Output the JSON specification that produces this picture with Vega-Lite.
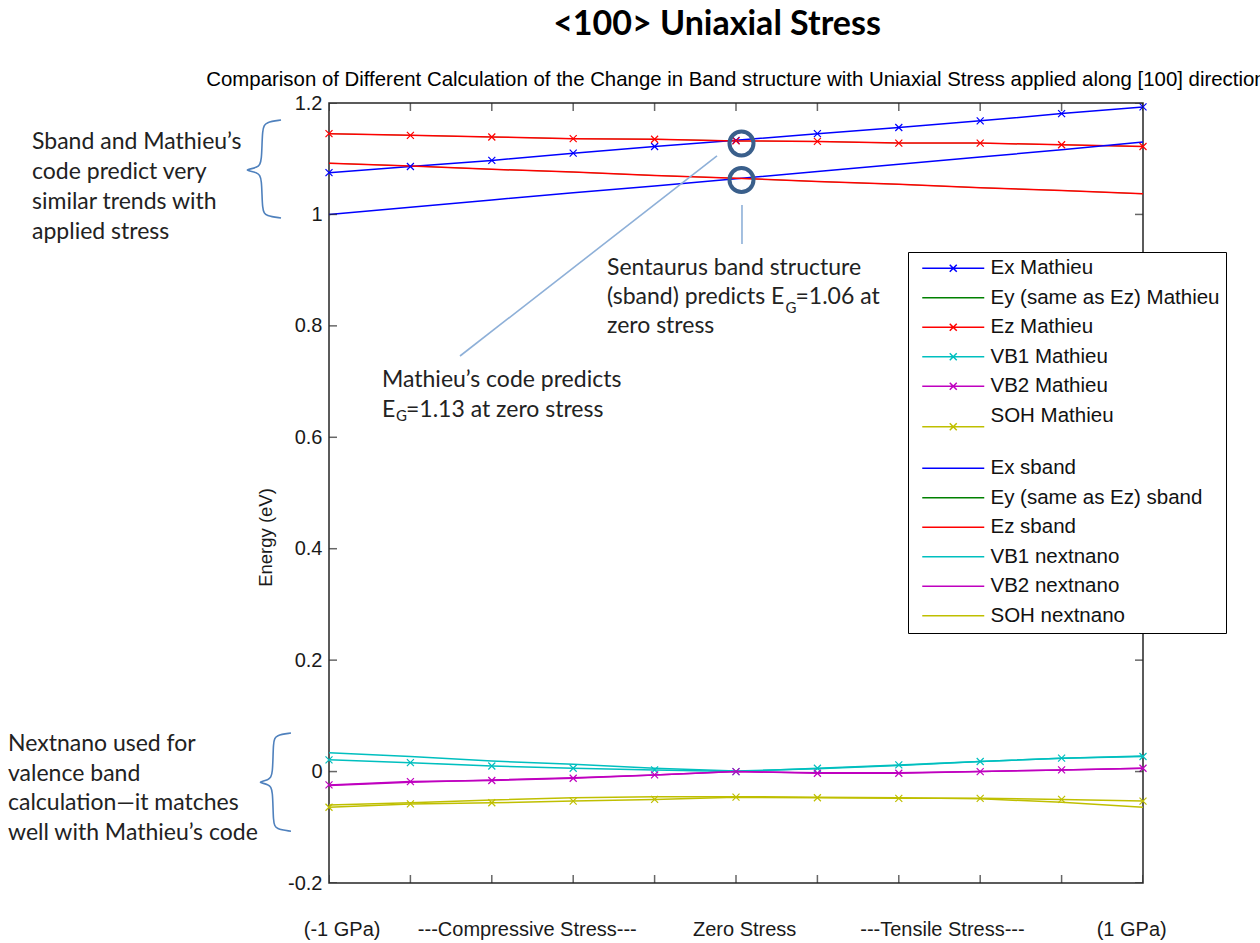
{
  "$schema": "https://vega.github.io/schema/vega-lite/v6.json",
  "width": 814,
  "height": 780,
  "autosize": {"type": "none"},
  "padding": {"left": 329, "top": 103, "right": 117, "bottom": 60},
  "background": "white",
  "title": {
    "text": "<100> Uniaxial Stress",
    "anchor": "middle",
    "frame": "group",
    "dx": -19,
    "font": "Lato",
    "fontSize": 34,
    "fontWeight": "bold",
    "color": "#000000",
    "offset": 28
  },
  "config": {
    "view": {"stroke": "#262626", "strokeWidth": 1.5},
    "axis": {
      "grid": false,
      "domain": false,
      "ticks": false,
      "labelFont": "Liberation Sans",
      "labelFontSize": 20,
      "labelColor": "#1a1a1a",
      "labelLimit": 400,
      "titleFont": "Liberation Sans",
      "titleFontWeight": "normal",
      "titleColor": "#1a1a1a"
    }
  },
  "datasets": {
    "bands": [
      {"series": "Ey (same as Ez) Mathieu", "stress": -1, "energy": 1.145},
      {"series": "Ey (same as Ez) Mathieu", "stress": -0.8, "energy": 1.142},
      {"series": "Ey (same as Ez) Mathieu", "stress": -0.6, "energy": 1.139},
      {"series": "Ey (same as Ez) Mathieu", "stress": -0.4, "energy": 1.136},
      {"series": "Ey (same as Ez) Mathieu", "stress": -0.2, "energy": 1.135},
      {"series": "Ey (same as Ez) Mathieu", "stress": 0, "energy": 1.132},
      {"series": "Ey (same as Ez) Mathieu", "stress": 0.2, "energy": 1.131},
      {"series": "Ey (same as Ez) Mathieu", "stress": 0.4, "energy": 1.128},
      {"series": "Ey (same as Ez) Mathieu", "stress": 0.6, "energy": 1.128},
      {"series": "Ey (same as Ez) Mathieu", "stress": 0.8, "energy": 1.125},
      {"series": "Ey (same as Ez) Mathieu", "stress": 1, "energy": 1.122},
      {"series": "Ey (same as Ez) sband", "stress": -1, "energy": 1.092},
      {"series": "Ey (same as Ez) sband", "stress": -0.8, "energy": 1.087},
      {"series": "Ey (same as Ez) sband", "stress": -0.6, "energy": 1.081},
      {"series": "Ey (same as Ez) sband", "stress": -0.4, "energy": 1.076},
      {"series": "Ey (same as Ez) sband", "stress": -0.2, "energy": 1.07},
      {"series": "Ey (same as Ez) sband", "stress": 0, "energy": 1.065},
      {"series": "Ey (same as Ez) sband", "stress": 0.2, "energy": 1.059},
      {"series": "Ey (same as Ez) sband", "stress": 0.4, "energy": 1.054},
      {"series": "Ey (same as Ez) sband", "stress": 0.6, "energy": 1.048},
      {"series": "Ey (same as Ez) sband", "stress": 0.8, "energy": 1.043},
      {"series": "Ey (same as Ez) sband", "stress": 1, "energy": 1.037},
      {"series": "Ex Mathieu", "stress": -1, "energy": 1.075},
      {"series": "Ex Mathieu", "stress": -0.8, "energy": 1.086},
      {"series": "Ex Mathieu", "stress": -0.6, "energy": 1.097},
      {"series": "Ex Mathieu", "stress": -0.4, "energy": 1.11},
      {"series": "Ex Mathieu", "stress": -0.2, "energy": 1.122},
      {"series": "Ex Mathieu", "stress": 0, "energy": 1.133},
      {"series": "Ex Mathieu", "stress": 0.2, "energy": 1.145},
      {"series": "Ex Mathieu", "stress": 0.4, "energy": 1.156},
      {"series": "Ex Mathieu", "stress": 0.6, "energy": 1.168},
      {"series": "Ex Mathieu", "stress": 0.8, "energy": 1.181},
      {"series": "Ex Mathieu", "stress": 1, "energy": 1.193},
      {"series": "Ez Mathieu", "stress": -1, "energy": 1.145},
      {"series": "Ez Mathieu", "stress": -0.8, "energy": 1.142},
      {"series": "Ez Mathieu", "stress": -0.6, "energy": 1.139},
      {"series": "Ez Mathieu", "stress": -0.4, "energy": 1.136},
      {"series": "Ez Mathieu", "stress": -0.2, "energy": 1.135},
      {"series": "Ez Mathieu", "stress": 0, "energy": 1.132},
      {"series": "Ez Mathieu", "stress": 0.2, "energy": 1.131},
      {"series": "Ez Mathieu", "stress": 0.4, "energy": 1.128},
      {"series": "Ez Mathieu", "stress": 0.6, "energy": 1.128},
      {"series": "Ez Mathieu", "stress": 0.8, "energy": 1.125},
      {"series": "Ez Mathieu", "stress": 1, "energy": 1.122},
      {"series": "VB1 Mathieu", "stress": -1, "energy": 0.021},
      {"series": "VB1 Mathieu", "stress": -0.8, "energy": 0.016},
      {"series": "VB1 Mathieu", "stress": -0.6, "energy": 0.01},
      {"series": "VB1 Mathieu", "stress": -0.4, "energy": 0.006},
      {"series": "VB1 Mathieu", "stress": -0.2, "energy": 0.003},
      {"series": "VB1 Mathieu", "stress": 0, "energy": 0.0},
      {"series": "VB1 Mathieu", "stress": 0.2, "energy": 0.006},
      {"series": "VB1 Mathieu", "stress": 0.4, "energy": 0.012},
      {"series": "VB1 Mathieu", "stress": 0.6, "energy": 0.018},
      {"series": "VB1 Mathieu", "stress": 0.8, "energy": 0.024},
      {"series": "VB1 Mathieu", "stress": 1, "energy": 0.027},
      {"series": "VB2 Mathieu", "stress": -1, "energy": -0.024},
      {"series": "VB2 Mathieu", "stress": -0.8, "energy": -0.018},
      {"series": "VB2 Mathieu", "stress": -0.6, "energy": -0.016},
      {"series": "VB2 Mathieu", "stress": -0.4, "energy": -0.012},
      {"series": "VB2 Mathieu", "stress": -0.2, "energy": -0.006},
      {"series": "VB2 Mathieu", "stress": 0, "energy": 0.0},
      {"series": "VB2 Mathieu", "stress": 0.2, "energy": -0.003},
      {"series": "VB2 Mathieu", "stress": 0.4, "energy": -0.003},
      {"series": "VB2 Mathieu", "stress": 0.6, "energy": 0.0},
      {"series": "VB2 Mathieu", "stress": 0.8, "energy": 0.003},
      {"series": "VB2 Mathieu", "stress": 1, "energy": 0.006},
      {"series": "SOH Mathieu", "stress": -1, "energy": -0.064},
      {"series": "SOH Mathieu", "stress": -0.8, "energy": -0.058},
      {"series": "SOH Mathieu", "stress": -0.6, "energy": -0.056},
      {"series": "SOH Mathieu", "stress": -0.4, "energy": -0.053},
      {"series": "SOH Mathieu", "stress": -0.2, "energy": -0.05},
      {"series": "SOH Mathieu", "stress": 0, "energy": -0.046},
      {"series": "SOH Mathieu", "stress": 0.2, "energy": -0.047},
      {"series": "SOH Mathieu", "stress": 0.4, "energy": -0.048},
      {"series": "SOH Mathieu", "stress": 0.6, "energy": -0.048},
      {"series": "SOH Mathieu", "stress": 0.8, "energy": -0.05},
      {"series": "SOH Mathieu", "stress": 1, "energy": -0.053},
      {"series": "Ex sband", "stress": -1, "energy": 1.0},
      {"series": "Ex sband", "stress": -0.8, "energy": 1.013},
      {"series": "Ex sband", "stress": -0.6, "energy": 1.026},
      {"series": "Ex sband", "stress": -0.4, "energy": 1.039},
      {"series": "Ex sband", "stress": -0.2, "energy": 1.051},
      {"series": "Ex sband", "stress": 0, "energy": 1.064},
      {"series": "Ex sband", "stress": 0.2, "energy": 1.077},
      {"series": "Ex sband", "stress": 0.4, "energy": 1.09},
      {"series": "Ex sband", "stress": 0.6, "energy": 1.103},
      {"series": "Ex sband", "stress": 0.8, "energy": 1.116},
      {"series": "Ex sband", "stress": 1, "energy": 1.13},
      {"series": "Ez sband", "stress": -1, "energy": 1.092},
      {"series": "Ez sband", "stress": -0.8, "energy": 1.087},
      {"series": "Ez sband", "stress": -0.6, "energy": 1.081},
      {"series": "Ez sband", "stress": -0.4, "energy": 1.076},
      {"series": "Ez sband", "stress": -0.2, "energy": 1.07},
      {"series": "Ez sband", "stress": 0, "energy": 1.065},
      {"series": "Ez sband", "stress": 0.2, "energy": 1.059},
      {"series": "Ez sband", "stress": 0.4, "energy": 1.054},
      {"series": "Ez sband", "stress": 0.6, "energy": 1.048},
      {"series": "Ez sband", "stress": 0.8, "energy": 1.043},
      {"series": "Ez sband", "stress": 1, "energy": 1.037},
      {"series": "VB1 nextnano", "stress": -1, "energy": 0.034},
      {"series": "VB1 nextnano", "stress": -0.8, "energy": 0.027},
      {"series": "VB1 nextnano", "stress": -0.6, "energy": 0.019},
      {"series": "VB1 nextnano", "stress": -0.4, "energy": 0.013},
      {"series": "VB1 nextnano", "stress": -0.2, "energy": 0.006},
      {"series": "VB1 nextnano", "stress": 0, "energy": 0.001},
      {"series": "VB1 nextnano", "stress": 0.2, "energy": 0.005},
      {"series": "VB1 nextnano", "stress": 0.4, "energy": 0.011},
      {"series": "VB1 nextnano", "stress": 0.6, "energy": 0.018},
      {"series": "VB1 nextnano", "stress": 0.8, "energy": 0.024},
      {"series": "VB1 nextnano", "stress": 1, "energy": 0.028},
      {"series": "VB2 nextnano", "stress": -1, "energy": -0.025},
      {"series": "VB2 nextnano", "stress": -0.8, "energy": -0.019},
      {"series": "VB2 nextnano", "stress": -0.6, "energy": -0.015},
      {"series": "VB2 nextnano", "stress": -0.4, "energy": -0.011},
      {"series": "VB2 nextnano", "stress": -0.2, "energy": -0.006},
      {"series": "VB2 nextnano", "stress": 0, "energy": 0.0},
      {"series": "VB2 nextnano", "stress": 0.2, "energy": -0.002},
      {"series": "VB2 nextnano", "stress": 0.4, "energy": -0.002},
      {"series": "VB2 nextnano", "stress": 0.6, "energy": 0.0},
      {"series": "VB2 nextnano", "stress": 0.8, "energy": 0.003},
      {"series": "VB2 nextnano", "stress": 1, "energy": 0.006},
      {"series": "SOH nextnano", "stress": -1, "energy": -0.06},
      {"series": "SOH nextnano", "stress": -0.8, "energy": -0.056},
      {"series": "SOH nextnano", "stress": -0.6, "energy": -0.051},
      {"series": "SOH nextnano", "stress": -0.4, "energy": -0.047},
      {"series": "SOH nextnano", "stress": -0.2, "energy": -0.045},
      {"series": "SOH nextnano", "stress": 0, "energy": -0.045},
      {"series": "SOH nextnano", "stress": 0.2, "energy": -0.046},
      {"series": "SOH nextnano", "stress": 0.4, "energy": -0.047},
      {"series": "SOH nextnano", "stress": 0.6, "energy": -0.049},
      {"series": "SOH nextnano", "stress": 0.8, "energy": -0.055},
      {"series": "SOH nextnano", "stress": 1, "energy": -0.064}
    ],
    "xticks": [{"v": -1}, {"v": -0.8}, {"v": -0.6}, {"v": -0.4}, {"v": -0.2}, {"v": 0}, {"v": 0.2}, {"v": 0.4}, {"v": 0.6}, {"v": 0.8}, {"v": 1}],
    "yticks": [{"v": -0.2}, {"v": 0}, {"v": 0.2}, {"v": 0.4}, {"v": 0.6}, {"v": 0.8}, {"v": 1}, {"v": 1.2}],
    "heading": [
      {"x": 0, "y": 1.2, "t": "Comparison of Different Calculation of the Change in Band structure with Uniaxial Stress applied along [100] direction"}
    ],
    "braces": [
      {"id": "top", "i": 0, "x": -1.1179, "y": 1.1694},
      {"id": "top", "i": 1, "x": -1.1548, "y": 1.1659},
      {"id": "top", "i": 2, "x": -1.1646, "y": 1.1551},
      {"id": "top", "i": 3, "x": -1.1646, "y": 1.0941},
      {"id": "top", "i": 4, "x": -1.1744, "y": 1.0833},
      {"id": "top", "i": 5, "x": -1.2138, "y": 1.0797},
      {"id": "top", "i": 6, "x": -1.1744, "y": 1.0761},
      {"id": "top", "i": 7, "x": -1.1646, "y": 1.0654},
      {"id": "top", "i": 8, "x": -1.1646, "y": 1.0061},
      {"id": "top", "i": 9, "x": -1.1548, "y": 0.9972},
      {"id": "top", "i": 10, "x": -1.1179, "y": 0.9936},
      {"id": "bottom", "i": 0, "x": -1.0934, "y": 0.0692},
      {"id": "bottom", "i": 1, "x": -1.1302, "y": 0.0657},
      {"id": "bottom", "i": 2, "x": -1.1376, "y": 0.0549},
      {"id": "bottom", "i": 3, "x": -1.1376, "y": -0.0064},
      {"id": "bottom", "i": 4, "x": -1.1474, "y": -0.0154},
      {"id": "bottom", "i": 5, "x": -1.1794, "y": -0.019},
      {"id": "bottom", "i": 6, "x": -1.1474, "y": -0.0226},
      {"id": "bottom", "i": 7, "x": -1.1376, "y": -0.0316},
      {"id": "bottom", "i": 8, "x": -1.1376, "y": -0.0926},
      {"id": "bottom", "i": 9, "x": -1.1302, "y": -0.1034},
      {"id": "bottom", "i": 10, "x": -1.0934, "y": -0.107}
    ],
    "pointers": [
      {"id": "mathieu", "i": 0, "x": -0.6781, "y": 0.7459},
      {"id": "mathieu", "i": 1, "x": -0.0467, "y": 1.1049},
      {"id": "sband", "i": 0, "x": 0.0147, "y": 1.0169},
      {"id": "sband", "i": 1, "x": 0.0147, "y": 0.9469}
    ],
    "rings": [
      {"x": 0.0135, "y": 1.1273},
      {"x": 0.0135, "y": 1.0618}
    ],
    "notes": [
      {"x": -1.7297, "y": 1.13, "t": "Sband and Mathieu’s"},
      {"x": -1.7297, "y": 1.0761, "t": "code predict very"},
      {"x": -1.7297, "y": 1.0223, "t": "similar trends with"},
      {"x": -1.7297, "y": 0.9684, "t": "applied stress"},
      {"x": -1.7887, "y": 0.0495, "t": "Nextnano used for"},
      {"x": -1.7887, "y": -0.0035, "t": "valence band"},
      {"x": -1.7887, "y": -0.0564, "t": "calculation—it matches"},
      {"x": -1.7887, "y": -0.1094, "t": "well with Mathieu’s code"},
      {"x": -0.8698, "y": 0.7028, "t": "Mathieu’s code predicts"},
      {"x": -0.8698, "y": 0.649, "t": "E"},
      {"x": -0.8108, "y": 0.649, "t": "=1.13 at zero stress"},
      {"x": -0.317, "y": 0.9047, "t": "Sentaurus band structure"},
      {"x": -0.317, "y": 0.8518, "t": "(sband) predicts E"},
      {"x": 0.1462, "y": 0.8518, "t": "=1.06 at"},
      {"x": -0.317, "y": 0.7997, "t": "zero stress"}
    ],
    "subs": [
      {"x": -0.8354, "y": 0.6387, "t": "G"},
      {"x": 0.1216, "y": 0.8315, "t": "G"}
    ]
  },
  "layer": [
    {
      "data": {"name": "bands"},
      "transform": [{"filter": "indexof(datum.series, 'Ey (') == 0"}],
      "mark": {"type": "line", "strokeWidth": 0.6},
      "encoding": {
        "x": {"field": "stress", "type": "quantitative"},
        "y": {"field": "energy", "type": "quantitative"},
        "color": {"field": "series", "type": "nominal"}
      }
    },
    {
      "data": {"name": "bands"},
      "transform": [{"filter": "indexof(datum.series, 'Ey (') != 0"}],
      "mark": {"type": "line", "strokeWidth": 1.5},
      "encoding": {
        "x": {
          "field": "stress",
          "type": "quantitative",
          "scale": {"domain": [-1, 1], "nice": false, "zero": false},
          "axis": {
            "title": null,
            "values": [-0.969, -0.514, 0.02, 0.506, 0.971],
            "labelExpr": "datum.value < -0.7 ? '(-1 GPa)' : datum.value < -0.2 ? '---Compressive Stress---' : datum.value < 0.2 ? 'Zero Stress' : datum.value < 0.7 ? '---Tensile Stress---' : '(1 GPa)'",
            "labelFlush": false,
            "labelOverlap": false,
            "labelBound": false,
            "labelLimit": 400,
            "labelBaseline": "top",
            "labelPadding": 36
          }
        },
        "y": {
          "field": "energy",
          "type": "quantitative",
          "scale": {"domain": [-0.2, 1.2], "nice": false, "zero": false},
          "axis": {
            "title": "Energy (eV)",
            "values": [-0.2, 0, 0.2, 0.4, 0.6, 0.8, 1, 1.2],
            "labelExpr": "'' + datum.value",
            "labelFlush": false,
            "labelOverlap": false,
            "labelPadding": 7,
            "titleFontSize": 18.5,
            "titleAngle": 270,
            "titleX": -64,
            "titleY": 434,
            "titleAlign": "center",
            "titleBaseline": "middle"
          }
        },
        "color": {
          "field": "series",
          "type": "nominal",
          "scale": {
            "domain": ["Ex Mathieu", "Ey (same as Ez) Mathieu", "Ez Mathieu", "VB1 Mathieu", "VB2 Mathieu", "SOH Mathieu", "Ex sband", "Ey (same as Ez) sband", "Ez sband", "VB1 nextnano", "VB2 nextnano", "SOH nextnano"],
            "range": ["#0000ff", "#008000", "#ff0000", "#00bfbf", "#bf00bf", "#bfbf00", "#0000ff", "#008000", "#ff0000", "#00bfbf", "#bf00bf", "#bfbf00"]
          },
          "legend": {
            "title": null,
            "orient": "none",
            "legendX": 579,
            "legendY": 149,
            "direction": "vertical",
            "fillColor": "#ffffff",
            "strokeColor": "#000000",
            "padding": 6,
            "labelFont": "Liberation Sans",
            "labelFontSize": 20.5,
            "labelColor": "#111111",
            "labelLimit": 400,
            "labelOffset": 27,
            "symbolOffset": 29,
            "symbolSize": 100,
            "symbolStrokeWidth": 1.5,
            "symbolType": "M-6.2,0H6.2",
            "rowPadding": 8.5,
            "labelExpr": "datum.label == 'SOH Mathieu' ? ['SOH Mathieu', ''] : datum.label",
            "encode": {
              "symbols": {
                "update": {
                  "shape": {"signal": "datum.value == 'SOH Mathieu' ? 'M-6.2,2.2H6.2M-0.7,1.5L0.7,2.9M0.7,1.5L-0.7,2.9' : indexof(['Ex Mathieu','Ez Mathieu','VB1 Mathieu','VB2 Mathieu'], datum.value) >= 0 ? 'M-6.2,0H6.2M-0.7,-0.7L0.7,0.7M0.7,-0.7L-0.7,0.7' : 'M-6.2,0H6.2'"}
                }
              }
            }
          }
        }
      }
    },
    {
      "data": {"name": "bands"},
      "transform": [{"filter": "indexof(['Ex Mathieu','Ez Mathieu','VB1 Mathieu','VB2 Mathieu','SOH Mathieu'], datum.series) >= 0"}],
      "mark": {"type": "point", "shape": "M-1,-1L1,1M1,-1L-1,1", "size": 49, "strokeWidth": 1.2, "filled": false, "opacity": 1},
      "encoding": {
        "x": {"field": "stress", "type": "quantitative"},
        "y": {"field": "energy", "type": "quantitative"},
        "color": {"field": "series", "type": "nominal"}
      }
    },
    {
      "data": {"name": "xticks"},
      "mark": {"type": "tick", "orient": "vertical", "size": 16, "thickness": 1.5, "color": "#262626", "clip": true},
      "encoding": {
        "x": {"field": "v", "type": "quantitative"},
        "y": {"datum": 1.2, "type": "quantitative"}
      }
    },
    {
      "data": {"name": "xticks"},
      "mark": {"type": "tick", "orient": "vertical", "size": 16, "thickness": 1.5, "color": "#262626", "clip": true},
      "encoding": {
        "x": {"field": "v", "type": "quantitative"},
        "y": {"datum": -0.2, "type": "quantitative"}
      }
    },
    {
      "data": {"name": "yticks"},
      "mark": {"type": "tick", "orient": "horizontal", "size": 16, "thickness": 1.5, "color": "#262626", "clip": true},
      "encoding": {
        "y": {"field": "v", "type": "quantitative"},
        "x": {"datum": -1, "type": "quantitative"}
      }
    },
    {
      "data": {"name": "yticks"},
      "mark": {"type": "tick", "orient": "horizontal", "size": 16, "thickness": 1.5, "color": "#262626", "clip": true},
      "encoding": {
        "y": {"field": "v", "type": "quantitative"},
        "x": {"datum": 1, "type": "quantitative"}
      }
    },
    {
      "data": {"name": "heading"},
      "mark": {"type": "text", "align": "center", "baseline": "middle", "dy": -23, "font": "Liberation Sans", "fontSize": 20.4, "color": "#000000"},
      "encoding": {
        "x": {"field": "x", "type": "quantitative"},
        "y": {"field": "y", "type": "quantitative"},
        "text": {"field": "t"}
      }
    },
    {
      "data": {"name": "braces"},
      "mark": {"type": "line", "interpolate": "basis", "color": "#4f81bd", "strokeWidth": 1.6},
      "encoding": {
        "x": {"field": "x", "type": "quantitative"},
        "y": {"field": "y", "type": "quantitative"},
        "detail": {"field": "id"},
        "order": {"field": "i"}
      }
    },
    {
      "data": {"name": "pointers"},
      "mark": {"type": "line", "color": "#8eb0d8", "strokeWidth": 1.6},
      "encoding": {
        "x": {"field": "x", "type": "quantitative"},
        "y": {"field": "y", "type": "quantitative"},
        "detail": {"field": "id"},
        "order": {"field": "i"}
      }
    },
    {
      "data": {"name": "rings"},
      "mark": {"type": "point", "shape": "circle", "size": 576, "filled": false, "strokeWidth": 4, "color": "#3a5f8b", "opacity": 1},
      "encoding": {
        "x": {"field": "x", "type": "quantitative"},
        "y": {"field": "y", "type": "quantitative"}
      }
    },
    {
      "data": {"name": "notes"},
      "mark": {"type": "text", "align": "left", "baseline": "middle", "font": "Lato", "fontSize": 23, "color": "#222222"},
      "encoding": {
        "x": {"field": "x", "type": "quantitative"},
        "y": {"field": "y", "type": "quantitative"},
        "text": {"field": "t"}
      }
    },
    {
      "data": {"name": "subs"},
      "mark": {"type": "text", "align": "left", "baseline": "middle", "font": "Lato", "fontSize": 15, "color": "#222222"},
      "encoding": {
        "x": {"field": "x", "type": "quantitative"},
        "y": {"field": "y", "type": "quantitative"},
        "text": {"field": "t"}
      }
    }
  ]
}
